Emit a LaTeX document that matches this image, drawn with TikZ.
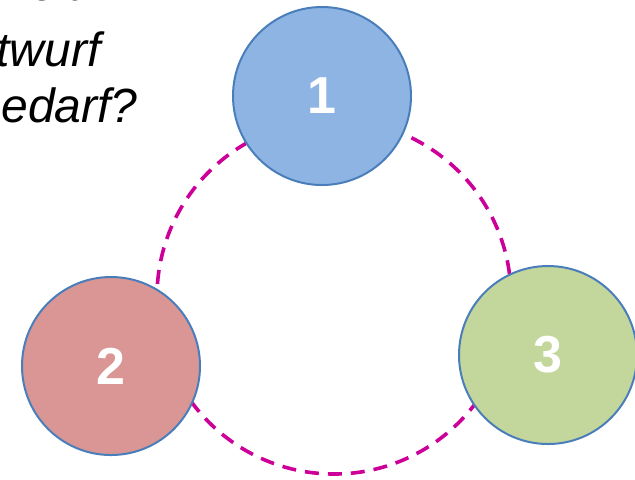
\documentclass[tikz,border=0pt]{standalone}
\usepackage{fontspec}
\setmainfont{Liberation Sans}
\usepackage{tikz}
\usetikzlibrary{positioning}
\definecolor{rimblue}{HTML}{4A7EBB}
\definecolor{fillone}{HTML}{8EB4E3}
\definecolor{filltwo}{HTML}{D99694}
\definecolor{fillthree}{HTML}{C3D69B}
\definecolor{ringcol}{HTML}{CC0099}
\tikzset{phase/.style={circle,draw=rimblue,line width=1pt,inner sep=0pt,minimum size=89pt,
	   text=white,font=\fontsize{26}{26}\selectfont\bfseries},
	 ring/.style={draw=ringcol,line width=1.8pt,dash pattern=on 7pt off 4.5pt},
	 ask/.style={anchor=base east,inner sep=0pt,font=\fontsize{24}{24}\selectfont\itshape}
	 }

\begin{document}
\begin{tikzpicture}[x=0.5pt,y=-0.5pt]
	\useasboundingbox (0,0) rectangle (635,479);
	\clip (0,0) rectangle (635,479);

	\node[ask] (q1) at (82,0) {Wie viel Klarheit};
	\node[ask] (q2) at (101,66) {Entwurf};
	\node[ask] (q3) at (138,122) {Bedarf?};

	\coordinate (mid) at (334,297);
	\draw[ring] (mid) circle[radius=88.5pt];

	\node[phase,fill=fillone] (p1) at (322,96) {1};
	\node[phase,fill=filltwo] (p2) at (111,366) {2};
	\node[phase,fill=fillthree] (p3) at (548,355) {3};
\end{tikzpicture}
\end{document}
